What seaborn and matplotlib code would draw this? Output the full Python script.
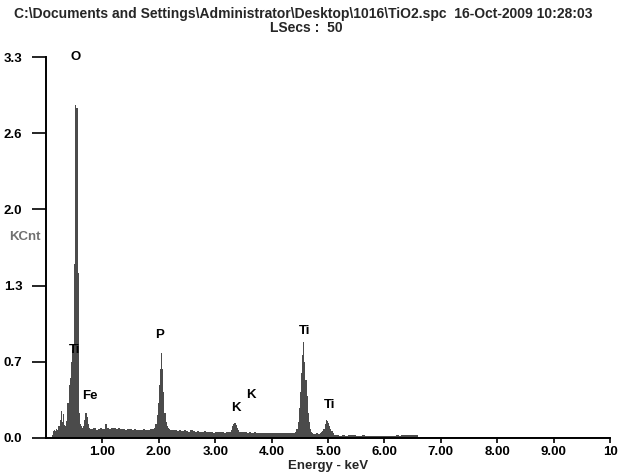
import numpy as np
import pandas as pd
import matplotlib
matplotlib.use("Agg")
import matplotlib.pyplot as plt
import seaborn as sns

# ---- data (KCnt per channel) ----
# each segment: start energy (keV), channel width (keV), counts
seg_low_start, seg_low_width = 0.10, 0.02
seg_low_counts = [0.03, 0.06, 0.07, 0.06, 0.08, 0.07, 0.10, 0.16, 0.23, 0.14,
                  0.21, 0.11, 0.10, 0.15, 0.30, 0.46, 0.52, 0.66, 0.76, 0.80,
                  1.51, 2.88, 2.86, 1.43, 0.22, 0.12, 0.10, 0.09, 0.10, 0.16,
                  0.22, 0.18, 0.12, 0.09, 0.08]
seg_bg1_start, seg_bg1_width = 0.80, 0.04
seg_bg1_counts = [0.08, 0.09, 0.07, 0.08, 0.09, 0.08, 0.12, 0.09, 0.08, 0.09,
                  0.085, 0.08, 0.09, 0.075, 0.08, 0.07, 0.08, 0.075, 0.07, 0.08,
                  0.07, 0.065, 0.07, 0.075, 0.065, 0.07, 0.075, 0.08]
seg_p_start, seg_p_width = 1.92, 0.02
seg_p_counts = [0.09, 0.12, 0.20, 0.30, 0.46, 0.60, 0.74, 0.60, 0.40, 0.22,
                0.14, 0.10, 0.085, 0.075]
seg_bg2_start, seg_bg2_width = 2.20, 0.04
seg_bg2_counts = [0.07, 0.065, 0.07, 0.06, 0.065, 0.06, 0.07, 0.06, 0.055, 0.065,
                  0.06, 0.055, 0.06, 0.05, 0.055, 0.06, 0.05, 0.055, 0.05, 0.045,
                  0.055, 0.05, 0.055, 0.05, 0.045, 0.05, 0.055]
seg_k_start, seg_k_width = 3.28, 0.02
seg_k_counts = [0.07, 0.10, 0.12, 0.13, 0.11, 0.09, 0.07, 0.055]
seg_bg3_start, seg_bg3_width = 3.44, 0.04
seg_bg3_counts = [0.05, 0.055, 0.05, 0.045, 0.05, 0.045, 0.05, 0.045, 0.04, 0.045,
                  0.04, 0.045, 0.04, 0.045, 0.04, 0.04, 0.045, 0.04, 0.045, 0.04,
                  0.04, 0.045, 0.04, 0.04]
seg_ti_start, seg_ti_width = 4.40, 0.02
seg_ti_counts = [0.045, 0.05, 0.08, 0.14, 0.26, 0.40, 0.56, 0.72, 0.83, 0.66,
                 0.50, 0.36, 0.22, 0.14, 0.08, 0.05, 0.04]
seg_bg4_start, seg_bg4_width = 4.74, 0.04
seg_bg4_counts = [0.035, 0.04, 0.035]
seg_tib_start, seg_tib_width = 4.86, 0.02
seg_tib_counts = [0.04, 0.05, 0.06, 0.08, 0.12, 0.16, 0.15, 0.13, 0.10, 0.08,
                  0.06, 0.04]
seg_bg5_start, seg_bg5_width = 5.10, 0.05
seg_bg5_counts = [0.03, 0.025, 0.02, 0.025, 0.02, 0.03, 0.025, 0.03, 0.02, 0.02,
                  0.025, 0.015, 0.02, 0.015, 0.02, 0.02, 0.015, 0.02, 0.015, 0.02,
                  0.015, 0.02, 0.025, 0.02, 0.025, 0.03, 0.03, 0.025, 0.03, 0.025]
seg_tail_start, seg_tail_width = 6.60, 0.10
seg_tail_counts = [0.010, 0.008, 0.012, 0.010, 0.009, 0.012, 0.010, 0.011, 0.008, 0.012,
                   0.010, 0.012, 0.009, 0.011, 0.012, 0.010, 0.009, 0.011, 0.012, 0.010,
                   0.008, 0.011, 0.010, 0.012, 0.009, 0.010, 0.011, 0.008, 0.010, 0.009,
                   0.010, 0.008, 0.009, 0.010]

peak_labels = ["O", "Ti", "Fe", "P", "K", "K", "Ti", "Ti"]
peak_label_kev = [0.53, 0.50, 0.78, 2.01, 3.37, 3.63, 4.58, 5.02]
peak_label_kcnt = [3.30, 0.76, 0.36, 0.89, 0.26, 0.37, 0.93, 0.29]

y_ticks = [0.0, 0.66, 1.32, 1.98, 2.64, 3.30]
y_tick_labels = ["0.0", "0.7", "1.3", "2.0", "2.6", "3.3"]
x_ticks = [1, 2, 3, 4, 5, 6, 7, 8, 9, 10]
x_tick_labels = ["1.00", "2.00", "3.00", "4.00", "5.00", "6.00", "7.00", "8.00", "9.00", "10"]

title_line1 = "C:\\Documents and Settings\\Administrator\\Desktop\\1016\\TiO2.spc  16-Oct-2009 10:28:03"
title_line2 = "LSecs :  50"

# ---- build channel table ----
segments = [
    (seg_low_start, seg_low_width, seg_low_counts),
    (seg_bg1_start, seg_bg1_width, seg_bg1_counts),
    (seg_p_start, seg_p_width, seg_p_counts),
    (seg_bg2_start, seg_bg2_width, seg_bg2_counts),
    (seg_k_start, seg_k_width, seg_k_counts),
    (seg_bg3_start, seg_bg3_width, seg_bg3_counts),
    (seg_ti_start, seg_ti_width, seg_ti_counts),
    (seg_bg4_start, seg_bg4_width, seg_bg4_counts),
    (seg_tib_start, seg_tib_width, seg_tib_counts),
    (seg_bg5_start, seg_bg5_width, seg_bg5_counts),
    (seg_tail_start, seg_tail_width, seg_tail_counts),
]
left, right, cnt = [], [], []
for s, w, c in segments:
    for i, v in enumerate(c):
        left.append(round(s + i * w, 4))
        right.append(round(s + (i + 1) * w, 4))
        cnt.append(v)
df = pd.DataFrame({"left": left, "right": right, "kcnt": cnt})
df["center"] = (df["left"] + df["right"]) / 2
edges = list(df["left"]) + [df["right"].iloc[-1]]

# ---- plot ----
sns.set_theme(style="white")
plt.rcParams["font.family"] = ["Liberation Sans", "DejaVu Sans"]
plt.rcParams["font.weight"] = "bold"

FS = 9.5
fig = plt.figure(figsize=(6.22, 4.76), dpi=100)
ax = fig.add_axes([46 / 622, 38 / 476, 564 / 622, 381 / 476])

sns.histplot(data=df, x="center", weights="kcnt", bins=edges, element="step",
             fill=True, color="#4b4b4b", alpha=1.0, linewidth=0, ax=ax)

ax.set_xlim(0, 10)
ax.set_ylim(0, 3.3)
for sp in ["top", "right"]:
    ax.spines[sp].set_visible(False)
for sp in ["left", "bottom"]:
    ax.spines[sp].set_color("black")
    ax.spines[sp].set_linewidth(1.4)

ax.set_yticks(y_ticks)
ax.set_yticklabels(y_tick_labels)
ax.set_xticks(x_ticks)
ax.set_xticklabels(x_tick_labels)
ax.tick_params(axis="y", direction="out", length=10, width=1.2, pad=7,
               labelsize=FS, colors="black", left=True)
ax.tick_params(axis="x", direction="out", length=3.5, width=1.2, pad=2.5,
               labelsize=FS, colors="black", bottom=True)
for lab in ax.get_xticklabels() + ax.get_yticklabels():
    lab.set_fontweight("bold")

ax.set_xlabel("Energy - keV", fontsize=FS, fontweight="bold", labelpad=1)
ax.set_ylabel("KCnt", fontsize=FS, fontweight="bold", color="#707070", rotation=0)
ax.yaxis.set_label_coords(-0.038, 0.512)

for lab, xk, yk in zip(peak_labels, peak_label_kev, peak_label_kcnt):
    ax.text(xk, yk, lab, ha="center", va="center", fontsize=FS,
            fontweight="bold", color="black", clip_on=False)

fig.text(303 / 622, 1 - 14 / 476, title_line1, ha="center", va="center",
         fontsize=10, fontweight="bold")
fig.text(306 / 622, 1 - 28 / 476, title_line2, ha="center", va="center",
         fontsize=10, fontweight="bold")

fig.savefig("out.png", dpi=100, facecolor="white")
